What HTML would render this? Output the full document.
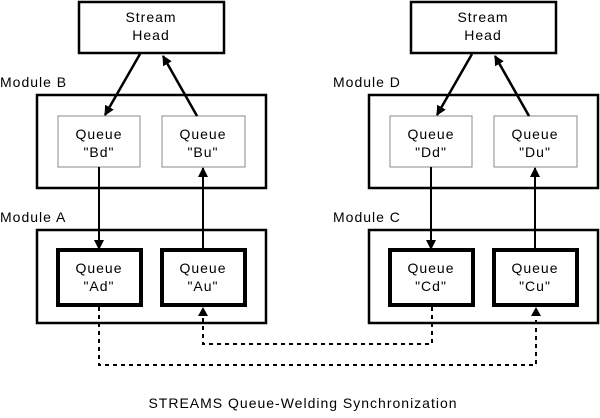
<!DOCTYPE html>
<html><head><style>
body{margin:0;background:#fff}
svg text{font-family:"Liberation Sans",sans-serif;font-size:14px;fill:#000;letter-spacing:1px}
</style></head><body>
<svg width="600" height="413" viewBox="0 0 600 413" xmlns="http://www.w3.org/2000/svg">
<defs>
<marker id="a" markerWidth="10" markerHeight="10" refX="9" refY="5" orient="auto" markerUnits="userSpaceOnUse" viewBox="0 0 10 10"><path d="M0,0 L10,5 L0,10 z" fill="#000"/></marker>
</defs>
<g id="L">
<rect x="79" y="2" width="145" height="51" fill="none" stroke="#000" stroke-width="2.5"/>
<text x="151" y="22" text-anchor="middle">Stream</text>
<text x="151" y="40" text-anchor="middle">Head</text>
<text x="0" y="87">Module B</text>
<rect x="37" y="95" width="229" height="93" fill="none" stroke="#000" stroke-width="2.5"/>
<rect x="58" y="116" width="82" height="51" fill="none" stroke="#888" stroke-width="1"/>
<rect x="162" y="116" width="83" height="51" fill="none" stroke="#888" stroke-width="1"/>
<text x="99" y="139" text-anchor="middle">Queue</text>
<text x="99" y="157" text-anchor="middle">"Bd"</text>
<text x="203" y="139" text-anchor="middle">Queue</text>
<text x="203" y="157" text-anchor="middle">"Bu"</text>
<text x="0" y="222">Module A</text>
<rect x="37" y="230" width="229" height="93" fill="none" stroke="#000" stroke-width="2.5"/>
<rect x="58" y="250" width="83" height="55" fill="none" stroke="#000" stroke-width="4"/>
<rect x="162" y="250" width="83" height="55" fill="none" stroke="#000" stroke-width="4"/>
<text x="99" y="273" text-anchor="middle">Queue</text>
<text x="99" y="291" text-anchor="middle">"Ad"</text>
<text x="203" y="273" text-anchor="middle">Queue</text>
<text x="203" y="291" text-anchor="middle">"Au"</text>
<line x1="140" y1="54" x2="105" y2="115" stroke="#000" stroke-width="2.5" marker-end="url(#a)"/>
<line x1="197" y1="116" x2="163" y2="56" stroke="#000" stroke-width="2.5" marker-end="url(#a)"/>
<line x1="99" y1="167" x2="99" y2="249" stroke="#000" stroke-width="2" marker-end="url(#a)"/>
<line x1="203" y1="249" x2="203" y2="168" stroke="#000" stroke-width="2" marker-end="url(#a)"/>
</g>
<g transform="translate(332,0)">
<rect x="79" y="2" width="145" height="51" fill="none" stroke="#000" stroke-width="2.5"/>
<text x="151" y="22" text-anchor="middle">Stream</text>
<text x="151" y="40" text-anchor="middle">Head</text>
<text x="1" y="87">Module D</text>
<rect x="37" y="95" width="229" height="93" fill="none" stroke="#000" stroke-width="2.5"/>
<rect x="58" y="116" width="82" height="51" fill="none" stroke="#888" stroke-width="1"/>
<rect x="162" y="116" width="83" height="51" fill="none" stroke="#888" stroke-width="1"/>
<text x="99" y="139" text-anchor="middle">Queue</text>
<text x="99" y="157" text-anchor="middle">"Dd"</text>
<text x="203" y="139" text-anchor="middle">Queue</text>
<text x="203" y="157" text-anchor="middle">"Du"</text>
<text x="1" y="222">Module C</text>
<rect x="37" y="230" width="229" height="93" fill="none" stroke="#000" stroke-width="2.5"/>
<rect x="58" y="250" width="83" height="55" fill="none" stroke="#000" stroke-width="4"/>
<rect x="162" y="250" width="83" height="55" fill="none" stroke="#000" stroke-width="4"/>
<text x="99" y="273" text-anchor="middle">Queue</text>
<text x="99" y="291" text-anchor="middle">"Cd"</text>
<text x="203" y="273" text-anchor="middle">Queue</text>
<text x="203" y="291" text-anchor="middle">"Cu"</text>
<line x1="140" y1="54" x2="105" y2="115" stroke="#000" stroke-width="2.5" marker-end="url(#a)"/>
<line x1="197" y1="116" x2="163" y2="56" stroke="#000" stroke-width="2.5" marker-end="url(#a)"/>
<line x1="99" y1="167" x2="99" y2="249" stroke="#000" stroke-width="2" marker-end="url(#a)"/>
<line x1="203" y1="249" x2="203" y2="168" stroke="#000" stroke-width="2" marker-end="url(#a)"/>
</g>
<g fill="none" stroke="#000" stroke-width="2" stroke-dasharray="4,4">
<polyline points="99,307 99,365 536,365 536,314"/>
<polyline points="432,307 432,344 203,344 203,314"/>
</g>
<path d="M198,316 L203,307 L208,316 z" fill="#000"/>
<path d="M531,316 L536,307 L541,316 z" fill="#000"/>
<text x="303" y="408" text-anchor="middle">STREAMS Queue-Welding Synchronization</text>
</svg>
</body></html>
